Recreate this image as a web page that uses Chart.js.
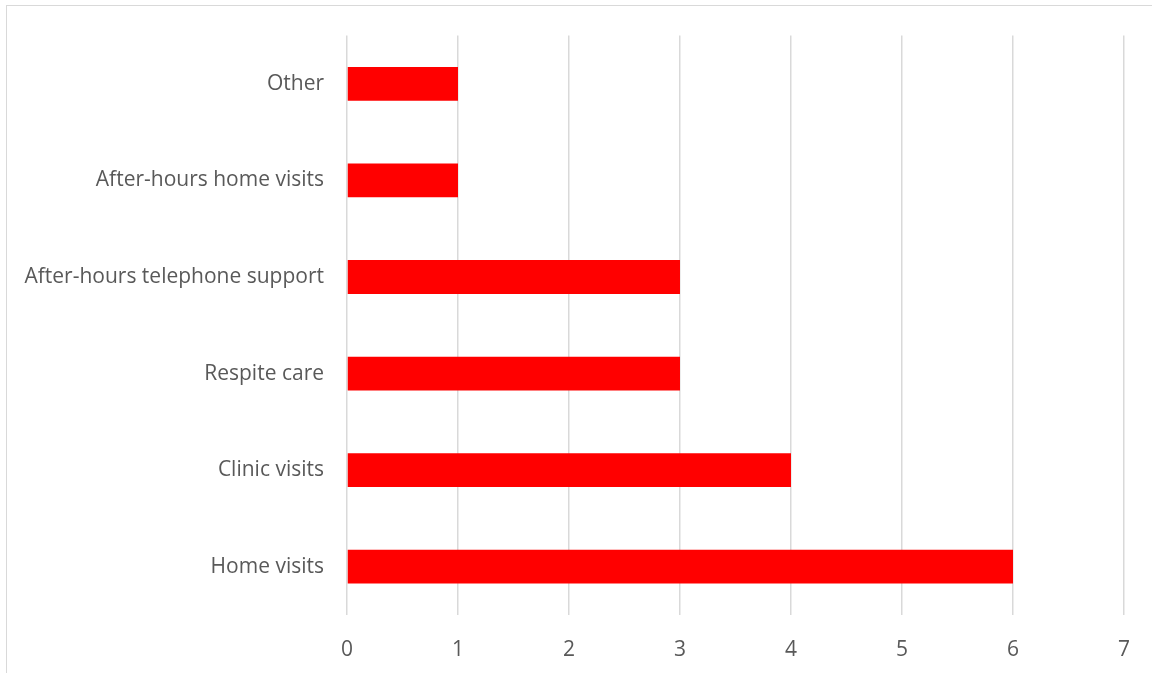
<!DOCTYPE html>
<html><head><meta charset="utf-8">
<script src="https://cdn.jsdelivr.net/npm/chart.js@4"></script>
<style>
html,body{margin:0;padding:0;background:#fff;overflow:hidden;width:1152px;height:673px;}
#frame{position:absolute;left:6px;top:5px;width:1160px;height:700px;border:1px solid #d9d9d9;}
#wrap{position:absolute;left:0;top:0;width:1152px;height:673px;}
</style></head>
<body>
<div id="frame"></div>
<div id="wrap"><canvas id="c" width="1152" height="673"></canvas></div>
<script>
const categories = ['Other','After-hours home visits','After-hours telephone support','Respite care','Clinic visits','Home visits'];
const values = [1,1,3,3,4,6];
const xTicks = [0,1,2,3,4,5,6,7];

const font = {family:'"Open Sans"', size:21};
new Chart(document.getElementById('c'), {
  type:'bar',
  data:{labels:categories, datasets:[{data:values, backgroundColor:'#ff0000', borderWidth:0, barPercentage:0.35, categoryPercentage:1}]},
  options:{
    indexAxis:'y', responsive:false, animation:false, devicePixelRatio:1,
    layout:{padding:{top:35,right:28,left:0,bottom:0}},
    plugins:{legend:{display:false}, tooltip:{enabled:false}},
    scales:{
      x:{min:xTicks[0], max:xTicks[xTicks.length-1],
         afterBuildTicks:s=>{s.ticks=xTicks.map(v=>({value:v}));},
         afterFit:s=>{s.height=58;},
         grid:{color:'#d9d9d9', lineWidth:1.5, drawTicks:false},
         border:{display:false},
         ticks:{color:'#595959', font, padding:22}},
      y:{afterFit:s=>{s.width=347;},
         grid:{display:false, drawTicks:false},
         border:{display:false},
         ticks:{color:'#595959', font, padding:23}}
    }
  }
});
</script>
</body></html>
